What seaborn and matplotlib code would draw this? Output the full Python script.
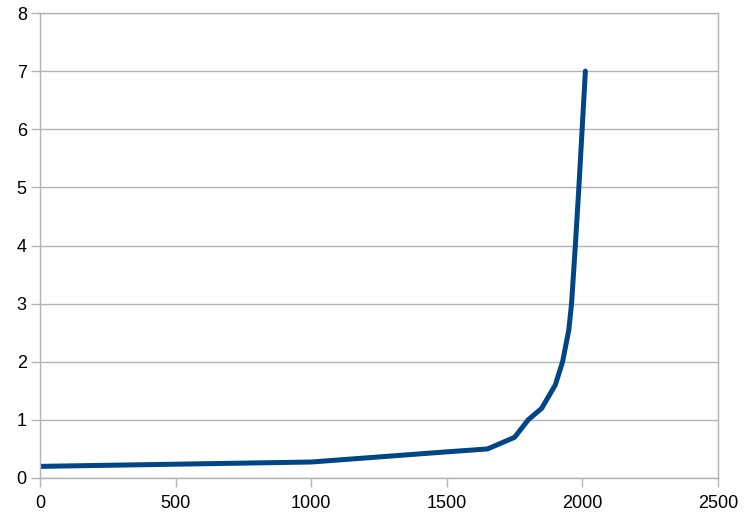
import matplotlib
matplotlib.use("Agg")
import pandas as pd
import seaborn as sns
import matplotlib.pyplot as plt

# world population (billions) by year
years = [0, 1000, 1500, 1650, 1750, 1800, 1850, 1900, 1927, 1950, 1960, 1974, 1987, 1999, 2011]
population = [0.2, 0.275, 0.45, 0.5, 0.7, 1.0, 1.2, 1.6, 2.0, 2.55, 3.0, 4.0, 5.0, 6.0, 7.0]

df = pd.DataFrame({"year": years, "pop": population})

sns.set_style("whitegrid")
plt.rcParams['font.family'] = ['Liberation Sans', 'DejaVu Sans']

fig = plt.figure(figsize=(7.55, 5.14), dpi=100)
ax = fig.add_axes([40 / 755, 1 - 478 / 514, 678 / 755, 465 / 514])

sns.lineplot(x="year", y="pop", data=df, color="#004586", linewidth=3.6, ax=ax,
             sort=False, solid_joinstyle="round")

ax.set_xlim(0, 2500)
ax.set_ylim(0, 8)
ax.set_xticks(range(0, 2501, 500))
ax.set_yticks(range(0, 9))
ax.set_xlabel("")
ax.set_ylabel("")
ax.grid(axis="x", visible=False)
ax.grid(axis="y", color="#b3b3b3", linewidth=1)
for s in ax.spines.values():
    s.set_color("#b3b3b3")
    s.set_linewidth(1)
    s.set_visible(True)
ax.tick_params(axis="both", which="both", length=6.5, width=1, color="#b3b3b3",
               labelsize=13, labelcolor="black", direction="out",
               bottom=True, left=True)
ax.tick_params(axis="x", pad=6)
ax.tick_params(axis="y", pad=3)

fig.savefig("out.png", dpi=100)
